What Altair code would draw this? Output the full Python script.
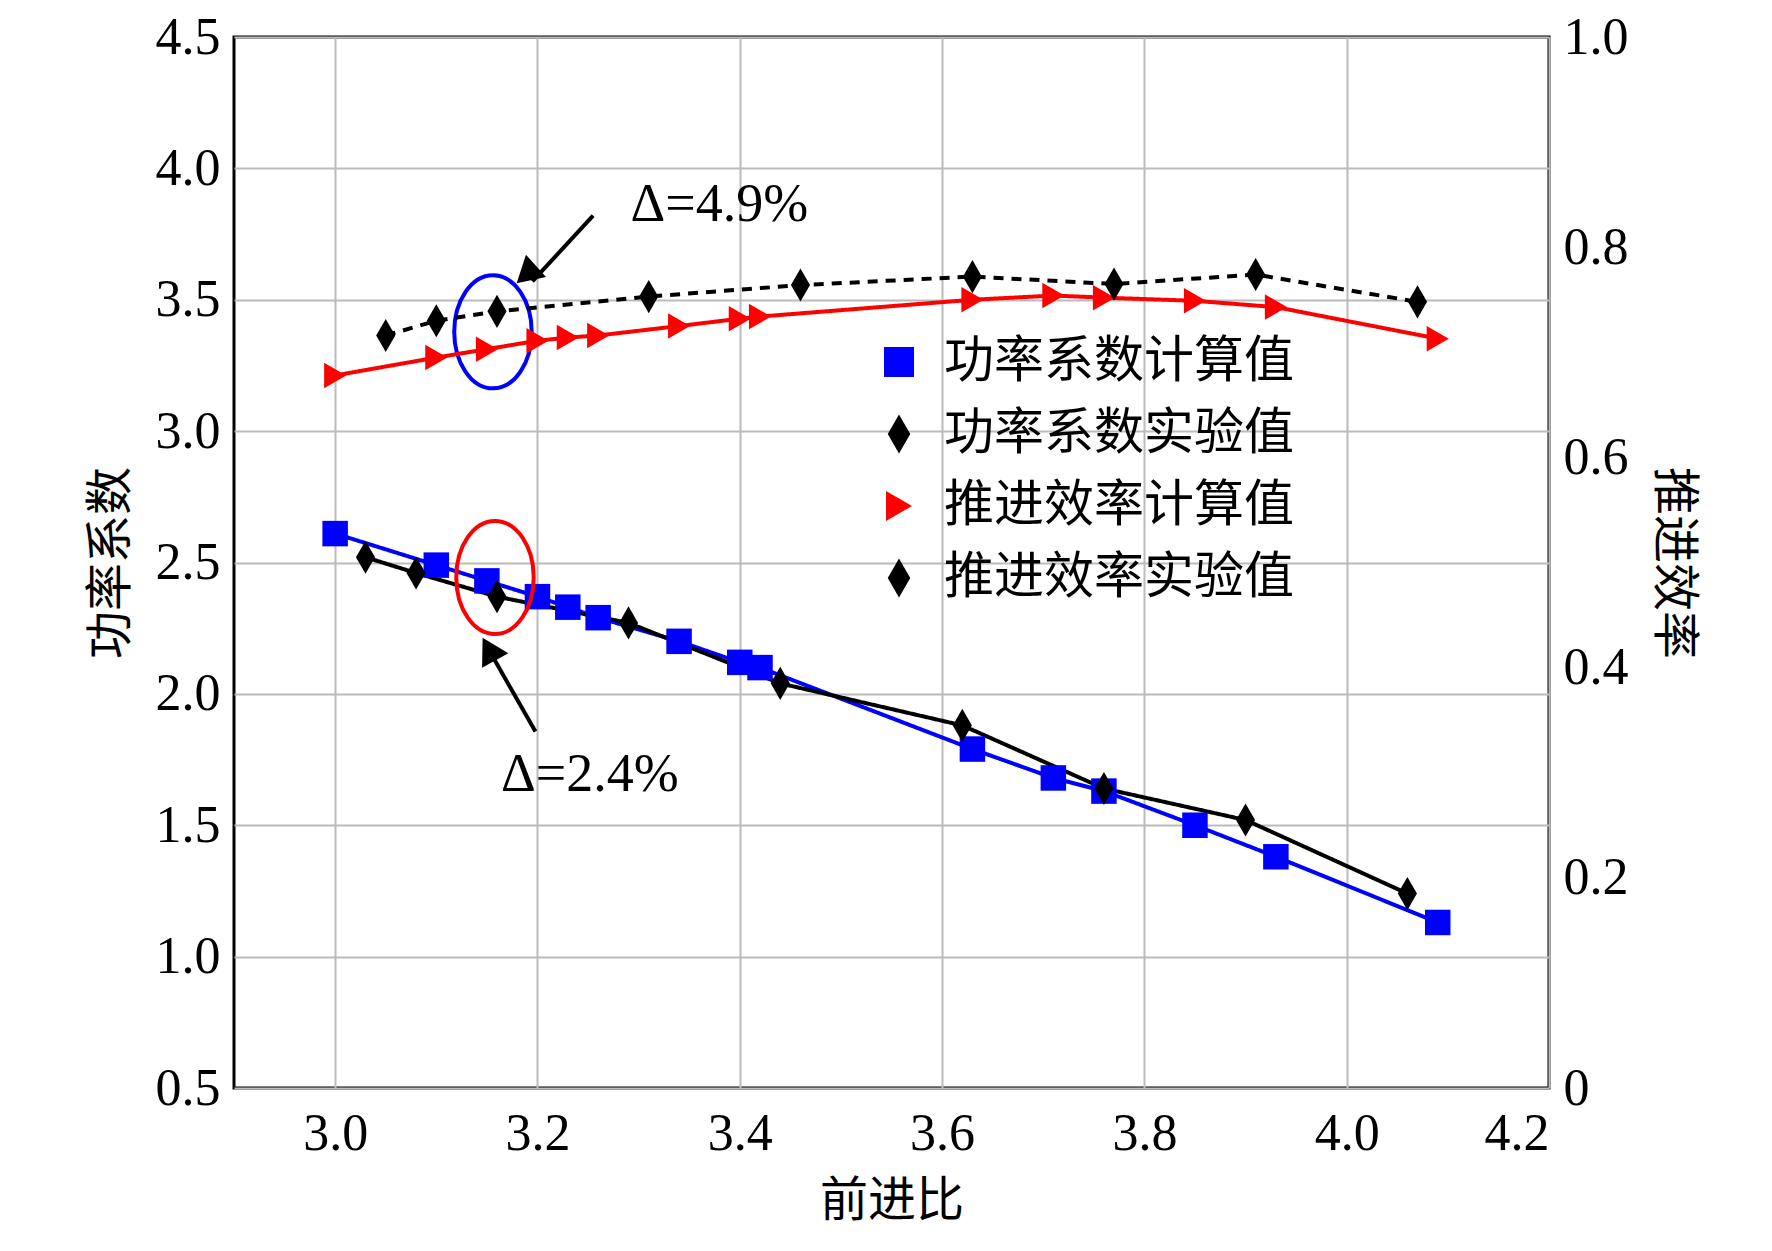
import pandas as pd
import altair as alt

# 前进比 / 功率系数 / 推进效率 values
cp_calc_x = [3.00, 3.10, 3.15, 3.20, 3.23, 3.26, 3.34, 3.40, 3.42, 3.63, 3.71, 3.76, 3.85, 3.93, 4.09]
cp_calc_y = [2.61, 2.49, 2.43, 2.37, 2.33, 2.29, 2.20, 2.12, 2.10, 1.79, 1.68, 1.63, 1.50, 1.38, 1.13]
cp_exp_x = [3.03, 3.08, 3.16, 3.29, 3.44, 3.62, 3.76, 3.90, 4.06]
cp_exp_y = [2.52, 2.46, 2.37, 2.27, 2.04, 1.88, 1.64, 1.52, 1.24]
eta_calc_x = [3.00, 3.10, 3.15, 3.20, 3.23, 3.26, 3.34, 3.40, 3.42, 3.63, 3.71, 3.76, 3.85, 3.93, 4.09]
eta_calc_y = [0.678, 0.695, 0.703, 0.711, 0.714, 0.716, 0.725, 0.732, 0.734, 0.750, 0.754, 0.752, 0.749, 0.743, 0.713]
eta_exp_x = [3.05, 3.10, 3.16, 3.31, 3.46, 3.63, 3.77, 3.91, 4.07]
eta_exp_y = [0.716, 0.730, 0.739, 0.753, 0.764, 0.772, 0.765, 0.774, 0.748]

DIAMOND = "M0,-1.3L0.75,0L0,1.3L-0.75,0Z"
names = ["功率系数计算值", "功率系数实验值", "推进效率计算值", "推进效率实验值"]
colors = ["#0000ff", "#000000", "#ff0000", "#000000"]
shapes = ["square", DIAMOND, "triangle-right", DIAMOND]
dashes = [[1, 0], [1, 0], [1, 0], [10, 8]]

left_df = pd.DataFrame({
    "J": cp_calc_x + cp_exp_x,
    "v": cp_calc_y + cp_exp_y,
    "s": [names[0]] * len(cp_calc_x) + [names[1]] * len(cp_exp_x),
})
right_df = pd.DataFrame({
    "J": eta_calc_x + eta_exp_x,
    "v": eta_calc_y + eta_exp_y,
    "s": [names[2]] * len(eta_calc_x) + [names[3]] * len(eta_exp_x),
})

FONT = "Liberation Serif"
CJK = "Noto Sans CJK SC"

xs = alt.X("J:Q", scale=alt.Scale(domain=[2.9, 4.2], nice=False),
           axis=alt.Axis(values=[3.0, 3.2, 3.4, 3.6, 3.8, 4.0, 4.2], format=".1f", title="前进比",
                         titleFont=CJK, titleFontSize=48, titleFontWeight="normal", titlePadding=18,
                         labelFont=FONT, labelFontSize=52, labelPadding=20, tickSize=0,
                         gridColor="#bbbbbb", gridWidth=2, domain=False))
color = alt.Color("s:N", scale=alt.Scale(domain=names, range=colors),
                  legend=alt.Legend(title=None, orient="none", legendX=640, legendY=300,
                                    labelFont=CJK, labelFontSize=50, labelLimit=0, symbolSize=900,
                                    symbolStrokeWidth=0, rowPadding=22, labelOffset=20))
shape = alt.Shape("s:N", scale=alt.Scale(domain=names, range=shapes), legend=None)
dash = alt.StrokeDash("s:N", scale=alt.Scale(domain=names, range=dashes), legend=None)

yl = alt.Y("v:Q", scale=alt.Scale(domain=[0.5, 4.5], nice=False),
           axis=alt.Axis(values=[0.5, 1.0, 1.5, 2.0, 2.5, 3.0, 3.5, 4.0, 4.5], format=".1f", title="功率系数",
                         titleFont=CJK, titleFontSize=48, titleFontWeight="normal", titlePadding=20,
                         labelFont=FONT, labelFontSize=52, labelPadding=14, tickSize=0,
                         gridColor="#bbbbbb", gridWidth=2, domain=False))
yr = alt.Y("v:Q", scale=alt.Scale(domain=[0, 1], nice=False),
           axis=alt.Axis(orient="right", values=[0, 0.2, 0.4, 0.6, 0.8, 1.0],
                         labelExpr="datum.value == 0 ? '0' : format(datum.value, '.1f')",
                         title="推进效率", titleFont=CJK, titleFontSize=48, titleFontWeight="normal",
                         titlePadding=20, labelFont=FONT, labelFontSize=52, labelPadding=14,
                         tickSize=0, grid=False, domain=False))

left_base = alt.Chart(left_df)
left = alt.layer(
    left_base.mark_line(strokeWidth=4).encode(x=xs, y=yl, color=color, strokeDash=dash),
    left_base.mark_point(filled=True, size=650, opacity=1).encode(x=xs, y=yl, color=color, shape=shape),
)

# annotations on the left axis scale
ell_df = pd.DataFrame({"J": [3.156, 3.158], "v": [3.378, 2.443], "c": ["#0000ff", "#ff0000"]})
ellipse = alt.Chart(ell_df).mark_point(
    shape="M -1 0 A 1 1.46 0 1 0 1 0 A 1 1.46 0 1 0 -1 0 Z", size=6000, strokeWidth=4, filled=False, opacity=1
).encode(x=xs, y=yl, stroke=alt.Stroke("c:N", scale=None))

arr_df = pd.DataFrame({"J": [3.255, 3.198], "v": [3.82, 1.857], "J2": [3.195, 3.156], "v2": [3.57, 2.14]})
arrows = alt.Chart(arr_df).mark_rule(strokeWidth=4, color="black").encode(x=xs, y=yl, x2="J2:Q", y2="v2:Q")
head_df = pd.DataFrame({"J": [3.189, 3.152], "v": [3.596, 2.17], "ang": [228, 331]})
heads = alt.Chart(head_df).mark_point(shape="triangle-up", filled=True, size=900, color="black", opacity=1).encode(
    x=xs, y=yl, angle=alt.Angle("ang:Q", scale=None))

txt_df = pd.DataFrame({"J": [3.292, 3.164], "v": [3.80, 1.63], "t": ["Δ=4.9%", "Δ=2.4%"]})
texts = alt.Chart(txt_df).mark_text(font=FONT, fontSize=54, align="left", baseline="alphabetic").encode(
    x=xs, y=yl, text="t:N")

right_base = alt.Chart(right_df)
right = alt.layer(
    right_base.mark_line(strokeWidth=4).encode(x=xs, y=yr, color=color, strokeDash=dash),
    right_base.mark_point(filled=True, size=650, opacity=1).encode(x=xs, y=yr, color=color, shape=shape),
)

chart = alt.layer(alt.layer(left, ellipse, arrows, heads, texts), right).resolve_scale(
    y="independent"
).properties(
    width=1315, height=1051, autosize="none", background="white",
    padding={"left": 226, "top": 29, "right": 200, "bottom": 150},
).configure_view(stroke="black", strokeWidth=3)

chart.save("out.html", embed_options={"renderer": "svg", "actions": False})
